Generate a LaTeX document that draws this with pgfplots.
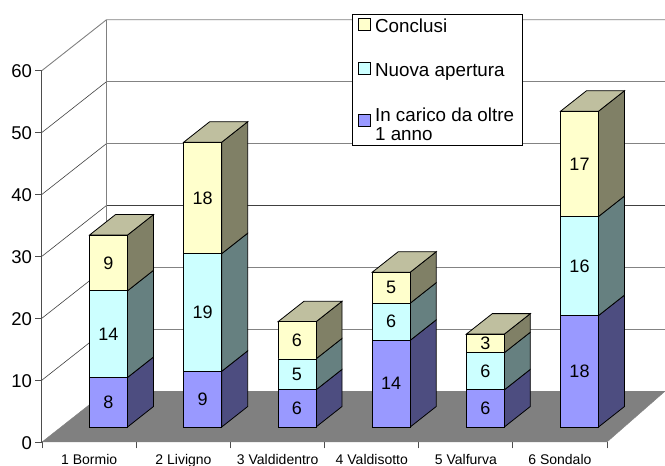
\documentclass[border=0pt]{standalone}
\usepackage{pgfplots}
\usepackage{pgfplotstable}
\pgfplotsset{compat=1.18}
\usepackage{fontspec}
\setmainfont{Liberation Sans}
\definecolor{fA}{HTML}{9999FF}\definecolor{fB}{HTML}{CCFFFF}\definecolor{fC}{HTML}{FFFFCC}
\definecolor{sA}{HTML}{4D4D80}\definecolor{sB}{HTML}{668080}\definecolor{sC}{HTML}{808066}
\definecolor{tC}{HTML}{BFBF9F}\definecolor{axc}{HTML}{4D4D4D}
\pgfplotstableread{
x base carico nuova conclusi
108.5 2.42 8 14 9
202.7 2.42 9 19 18
297.0 2.42 6 5 6
391.2 2.42 14 6 5
485.3 2.42 6 6 3
579.5 2.42 18 16 17
}\datatab
% side face of one segment: right front x, bottom and top level, colour
\newcommand\sideface[4]{%
  \pgfmathsetmacro\xa{#1+19}\pgfmathsetmacro\xb{#1+45}%
  \pgfmathsetmacro\ya{#2+2.42}\pgfmathsetmacro\yb{#3+2.42}%
  \pgfmathsetmacro\yc{#2+2.42+3.31}\pgfmathsetmacro\yd{#3+2.42+3.31}%
  \edef\temp{\noexpand\addplot[draw=black,line width=.8pt,fill=#4] coordinates {(\xa,\ya) (\xb,\yc) (\xb,\yd) (\xa,\yb)} -- cycle;}\temp}
\newcommand\topface[2]{%
  \pgfmathsetmacro\xa{#1-19}\pgfmathsetmacro\xb{#1+19}\pgfmathsetmacro\xc{#1+45}\pgfmathsetmacro\xd{#1+7}%
  \pgfmathsetmacro\yb{#2+2.42}\pgfmathsetmacro\yd{#2+2.42+3.31}%
  \edef\temp{\noexpand\addplot[draw=black,line width=.8pt,fill=tC] coordinates {(\xa,\yb) (\xb,\yb) (\xc,\yd) (\xd,\yd)} -- cycle;}\temp}
\newcommand\barfaces[4]{\sideface{#1}{0}{#2}{sA}\sideface{#1}{#2}{#3}{sB}\sideface{#1}{#3}{#4}{sC}\topface{#1}{#4}}
\newcommand\gridl[1]{\pgfmathsetmacro\yy{#1+8.2}\edef\temp{\noexpand\addplot[draw=black!75,line width=.6pt] coordinates {(42,#1) (106.5,\yy) (665,\yy)};}\temp}
\pgfplotsset{common/.style={scale only axis,width=565pt,height=371.5pt,xmin=42,xmax=607,ymin=0,ymax=60,clip=false}}
\begin{document}
\begin{tikzpicture}
\path[use as bounding box] (-42pt,-24pt) rectangle (623pt,442pt);
\begin{axis}[common,
  axis lines=left,axis line style={-,draw=axc,line width=1pt},
  tick style={draw=axc,line width=.8pt},tick align=outside,major tick length=6.5pt,
  ytick={0,10,...,60},
  xtick={42,136.2,230.3,324.5,418.7,512.8,607},xticklabels={},
  extra x ticks={89.2,183.5,277.7,371.8,465.9,559.9},
  extra x tick labels={1 Bormio,2 Livigno,3 Valdidentro,4 Valdisotto,5 Valfurva,6 Sondalo},
  extra x tick style={major tick length=0pt,
    tick label style={font=\fontsize{14}{16}\selectfont,inner sep=0pt,yshift=-12pt}},
  y tick label style={font=\fontsize{18.5}{20}\selectfont,yshift=-1pt},
  /pgf/number format/assume math mode=true,
]
\gridl{10}\gridl{20}\gridl{30}\gridl{40}\gridl{50}
\addplot[draw=gray,line width=.9pt] coordinates {(42,60) (106.5,68.2) (665,68.2)};
\addplot[draw=gray,line width=.9pt] coordinates {(106.5,8.2) (106.5,68.2)};
\addplot[draw=gray,fill=gray] coordinates {(42,0) (607,0) (665,8.2) (106.5,8.2)} -- cycle;
\barfaces{108.5}{8}{22}{31}
\barfaces{202.7}{9}{28}{46}
\barfaces{297.0}{6}{11}{17}
\barfaces{391.2}{14}{20}{25}
\barfaces{485.3}{6}{12}{15}
\barfaces{579.5}{18}{34}{51}
\end{axis}
\begin{axis}[common,hide axis,ybar stacked,bar width=38pt,
  nodes near coords style={font=\fontsize{18}{20}\selectfont,anchor=center},
  /pgf/number format/assume math mode=true,
  reverse legend,
  legend style={at={(axis cs:352,69.1)},anchor=north west,draw=black,line width=.8pt,fill=white,
    font=\fontsize{18.8}{20}\selectfont,row sep=23pt,inner xsep=6pt,inner ysep=2.5pt,
    nodes={inner sep=2pt,text depth={}},/tikz/column 2/.style={column sep=2pt}},
  legend cell align=left,
  legend image code/.code={\draw[#1,line width=.7pt,draw=black] (0pt,-2pt) rectangle (12pt,10pt);},
]
\addplot[draw=none,fill=none,forget plot] table[x=x,y=base] {\datatab};
\addplot[nodes near coords,draw=black,line width=.8pt,fill=fA] table[x=x,y=carico] {\datatab};
\addlegendentry{\parbox[t]{134pt}{\baselineskip=19.5pt \hbox{\hspace*{2pt}In carico da oltre}\hbox{\hspace*{2pt}1 anno}}}
\addplot[nodes near coords,draw=black,line width=.8pt,fill=fB] table[x=x,y=nuova] {\datatab};
\addlegendentry{\hspace*{2pt}Nuova apertura}
\addplot[nodes near coords,draw=black,line width=.8pt,fill=fC] table[x=x,y=conclusi] {\datatab};
\addlegendentry{\hspace*{2pt}Conclusi\rule[-4pt]{0pt}{4pt}}
\end{axis}
\end{tikzpicture}
\end{document}
